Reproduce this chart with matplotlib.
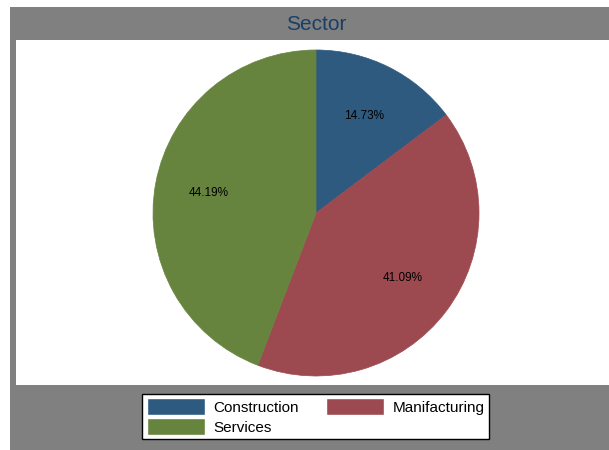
import matplotlib.pyplot as plt
from matplotlib.patches import Rectangle, Patch

plt.rcParams['font.family'] = ['Liberation Sans', 'DejaVu Sans']

# data
sectors = ['Construction', 'Manifacturing', 'Services']
shares = [14.73, 41.09, 44.19]
colors = ['#2f5a80', '#9c4a50', '#67843f']

W, H = 609, 450
fig = plt.figure(figsize=(W / 100, H / 100), dpi=100)
fig.patch.set_facecolor('white')

def px(x0, y0, x1, y1):
    # pixel box (from top-left) -> figure fraction rect
    return [x0 / W, 1 - y1 / H, (x1 - x0) / W, (y1 - y0) / H]

# grey outer frame and white plot region
r = px(10, 7, W, H)
fig.patches.append(Rectangle((r[0], r[1]), r[2], r[3], transform=fig.transFigure,
                             facecolor='#808080', edgecolor='none', zorder=-2))
r = px(16, 40, W, 385)
fig.patches.append(Rectangle((r[0], r[1]), r[2], r[3], transform=fig.transFigure,
                             facecolor='white', edgecolor='none', zorder=-1))

# title
fig.text(316 / W, 1 - 25 / H, 'Sector', ha='center', va='center',
         fontsize=15, color='#1a3f66')

# pie
ax = fig.add_axes(px(153, 50, 479, 376))
ax.set_facecolor('none')
wedges, texts, autotexts = ax.pie(shares, colors=colors, startangle=90, counterclock=False,
                                  autopct='%.2f%%', pctdistance=0.667,
                                  wedgeprops=dict(linewidth=0.5),
                                  textprops=dict(fontsize=8.5, color='black'))
for w, c in zip(wedges, colors):
    w.set_edgecolor(c)
ax.set_xlim(-1, 1)
ax.set_ylim(-1, 1)
ax.set_aspect('equal')
ax.axis('off')

# legend
handles = [Patch(facecolor=colors[i], edgecolor='white', label=sectors[i]) for i in [0, 2, 1]]
leg = fig.legend(handles=handles, loc='center', ncol=2,
                 bbox_to_anchor=(315.5 / W, 1 - 416.5 / H),
                 fontsize=11, handlelength=3.8, handleheight=1.25, handletextpad=0.55,
                 columnspacing=1.8, labelspacing=0.25, borderpad=0.3,
                 fancybox=False, framealpha=1, edgecolor='black')
leg.get_frame().set_linewidth(1)

fig.savefig('out.png', dpi=100)
